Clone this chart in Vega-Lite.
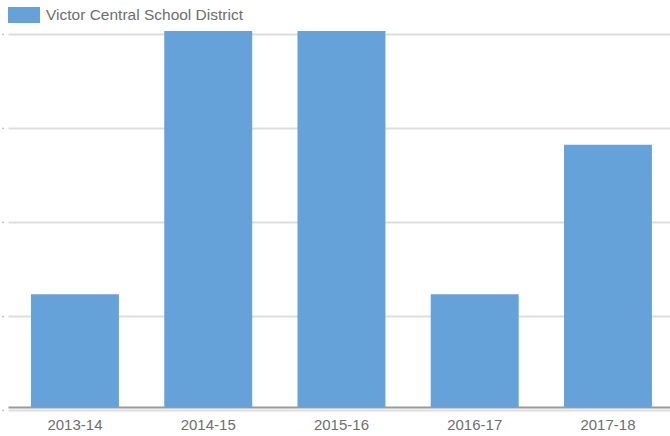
{
  "$schema": "https://vega.github.io/schema/vega-lite/v6.json",
  "autosize": {"type": "none"},
  "width": 662,
  "height": 376,
  "padding": {"left": 8, "top": 31, "right": 0, "bottom": 29},
  "background": "white",
  "data": {
    "values": [
      {"year": "2013-14", "value": 1.2, "district": "Victor Central School District"},
      {"year": "2014-15", "value": 4, "district": "Victor Central School District"},
      {"year": "2015-16", "value": 4, "district": "Victor Central School District"},
      {"year": "2016-17", "value": 1.2, "district": "Victor Central School District"},
      {"year": "2017-18", "value": 2.79, "district": "Victor Central School District"}
    ]
  },
  "mark": {"type": "bar"},
  "encoding": {
    "x": {
      "field": "year",
      "type": "ordinal",
      "scale": {"paddingInner": 0.34, "paddingOuter": 0.154, "align": 0.56},
      "axis": {
        "title": null,
        "labelAngle": 0,
        "labelFont": "Liberation Sans",
        "labelFontSize": 15,
        "labelColor": "#6e6e6e",
        "labelPadding": 10,
        "ticks": false,
        "domainColor": "#9a9a9a",
        "domainWidth": 2,
        "grid": false
      }
    },
    "y": {
      "field": "value",
      "type": "quantitative",
      "scale": {"domain": [0, 4], "nice": false},
      "axis": {
        "title": null,
        "values": [0, 1, 2, 3, 4],
        "labels": false,
        "domain": false,
        "ticks": true,
        "tickSize": 1,
        "tickWidth": 1.5,
        "tickColor": "#888888",
        "offset": 5,
        "tickOffset": 3,
        "grid": true,
        "gridColor": "#dddddd",
        "gridWidth": 2
      }
    },
    "color": {
      "field": "district",
      "type": "nominal",
      "scale": {"range": ["#65A2D9"]},
      "legend": {
        "title": null,
        "orient": "none",
        "legendX": 0,
        "legendY": -32,
        "symbolType": "M-1,-0.5H1V0.5H-1Z",
        "symbolSize": 1024,
        "symbolStrokeWidth": 0,
        "labelFont": "Liberation Sans",
        "labelFontSize": 15.5,
        "labelColor": "#6e6e6e",
        "labelOffset": 6,
        "labelLimit": 400
      }
    }
  },
  "config": {
    "view": {"stroke": null}
  }
}
